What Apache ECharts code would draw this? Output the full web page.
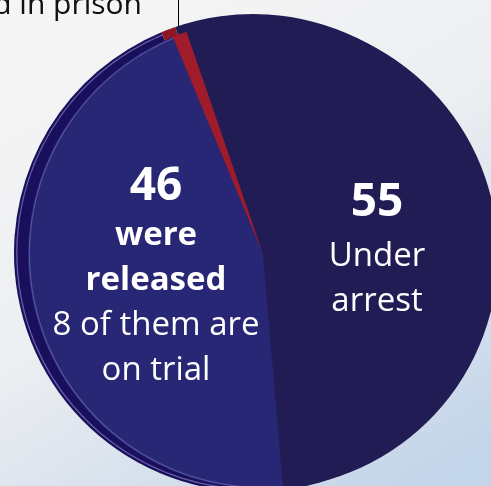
<!DOCTYPE html>
<html><head><meta charset="utf-8">
<script src="https://cdn.jsdelivr.net/npm/echarts@6/dist/echarts.min.js"></script>
<style>html,body{margin:0;padding:0;width:491px;height:486px;overflow:hidden}#c{width:491px;height:486px}</style>
</head><body><div id="c"></div>
<script>
// ---- data ----
const categories = ['Under arrest', 'were released', 'died in prison'];
const values = [55, 46, 1];
const headlines = ['Under arrest', 'were released', '1 died in prison'];
const boldLines = [[], ['were', 'released'], []];
const regularLines = [['Under', 'arrest'], ['8 of them are', 'on trial'], []];

// ---- styles ----
const sliceColors = ['#221c55', '#272776', '#a11c2b'];
const rimColors = ['#221c55', '#190f5d', '#8c1826'];
const FONT = '"Open Sans", "Noto Sans", sans-serif';

function labelText(i) {
  if (i === 2) return '{top|' + headlines[2] + '}';
  const parts = ['{n' + i + '|' + values[i] + '}'];
  boldLines[i].forEach(t => parts.push('{b|' + t + '}'));
  regularLines[i].forEach(t => parts.push('{r|' + t + '}'));
  return parts.join('\n');
}

const START = 109;
const mainData = categories.map((c, i) => ({
  name: c, value: values[i],
  itemStyle: { color: sliceColors[i] },
  label: i === 2 ? { show: true, position: 'outside' } : { show: true, position: 'inside' },
  labelLine: i === 2 ? { show: true, lineStyle: { color: '#000', width: 1, opacity: 1 } } : { show: false }
}));

const chart = echarts.init(document.getElementById('c'), null, { renderer: 'canvas' });
chart.setOption({
  animation: false,
  backgroundColor: new echarts.graphic.LinearGradient(0.25, 0, 0.85, 1, [
    { offset: 0, color: '#f5f5f5' },
    { offset: 0.45, color: '#eceef1' },
    { offset: 1, color: '#c3d5e9' }
  ]),
  series: [
    { // 3D rim (side)
      type: 'pie', silent: true, center: [253, 253], radius: 239, startAngle: START,
      label: { show: false }, labelLine: { show: false }, emphasis: { disabled: true },
      data: values.map((v, i) => ({ value: v, itemStyle: { color: rimColors[i] } }))
    },
    { // rim highlight
      type: 'pie', silent: true, center: [253, 253], radius: [235.5, 236.8], startAngle: START,
      label: { show: false }, labelLine: { show: false }, emphasis: { disabled: true },
      data: values.map((v, i) => ({ value: v, itemStyle: { color: i === 1 ? 'rgba(190,190,245,0.45)' : 'rgba(0,0,0,0)' } }))
    },
    { // main surface
      type: 'pie', center: [263, 254], radius: 235, startAngle: START, clockwise: true,
      avoidLabelOverlap: false, emphasis: { disabled: true },
      label: {
        color: '#ffffff', fontFamily: FONT,
        formatter: p => labelText(p.dataIndex),
        rich: {
          n0: { fontSize: 46, fontWeight: 'bold', lineHeight: 62, color: '#fff', fontFamily: FONT },
          n1: { fontSize: 46, fontWeight: 'bold', lineHeight: 52, color: '#fff', fontFamily: FONT },
          b: { fontSize: 33, fontWeight: 'bold', lineHeight: 45, color: '#fff', fontFamily: FONT },
          r: { fontSize: 33, lineHeight: 45, color: '#fff', fontFamily: FONT },
          top: { fontSize: 30, color: '#111', fontFamily: FONT, lineHeight: 34 }
        }
      },
      labelLayout: function (p) {
        if (p.dataIndex === 0) return { x: 377, y: 248, align: 'center', verticalAlign: 'middle' };
        if (p.dataIndex === 1) return { x: 156, y: 277, align: 'center', verticalAlign: 'middle' };
        return { x: 142, y: 5, align: 'right', verticalAlign: 'middle',
                 labelLinePoints: [[178.5, 40], [178.5, -20], [178.5, -20]] };
      },
      data: mainData
    },
    { // surface edge highlight
      type: 'pie', silent: true, center: [263, 254], radius: [233, 234.2], startAngle: START,
      label: { show: false }, labelLine: { show: false }, emphasis: { disabled: true },
      data: values.map((v, i) => ({ value: v, itemStyle: { color: i === 1 ? 'rgba(170,170,235,0.35)' : 'rgba(0,0,0,0)' } }))
    }
  ]
});
</script>
</body></html>
